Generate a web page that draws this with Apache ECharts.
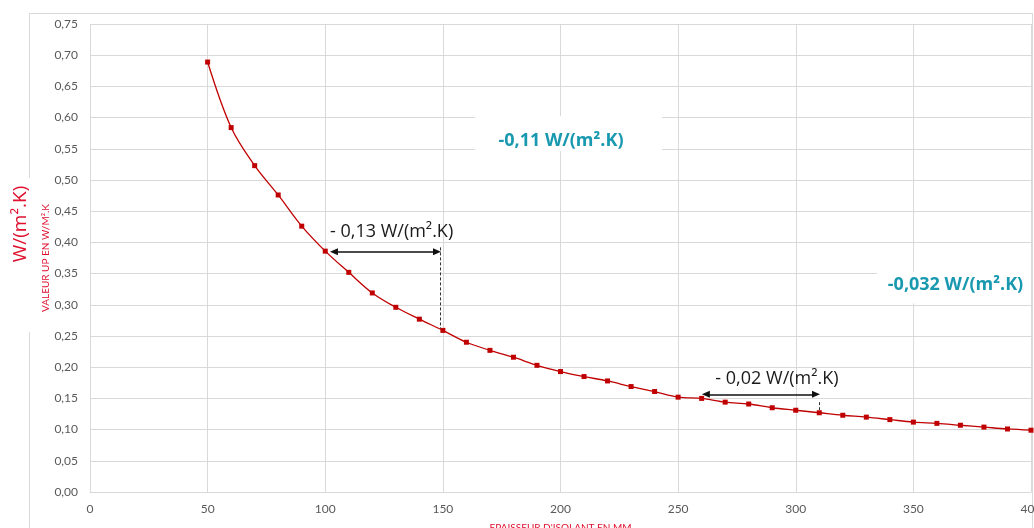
<!DOCTYPE html>
<html>
<head>
<meta charset="utf-8">
<script src="https://cdn.jsdelivr.net/npm/echarts@6/dist/echarts.min.js"></script>
<style>
html,body{margin:0;padding:0;background:#fff;}
#chart{width:1034px;height:528px;}
</style>
</head>
<body>
<div id="chart"></div>
<script>
// Épaisseur d'isolant (mm)
const thickness = [50,60,70,80,90,100,110,120,130,140,150,160,170,180,190,200,210,220,230,240,250,260,270,280,290,300,310,320,330,340,350,360,370,380,390,400];
// Valeur Up (W/m².K)
const upValues = [0.689,0.584,0.523,0.476,0.426,0.386,0.352,0.319,0.296,0.277,0.259,0.240,0.227,0.216,0.203,0.193,0.185,0.178,0.169,0.161,0.152,0.150,0.144,0.141,0.135,0.131,0.127,0.123,0.120,0.116,0.112,0.110,0.107,0.104,0.101,0.099];

const xTicks = {min:0, max:400, interval:50};
const yTicks = {min:0, max:0.75, interval:0.05};

const yAxisTitle = 'VALEUR UP EN W/M².K';
const xAxisTitle = "EPAISSEUR D'ISOLANT EN MM";
const unitLabel = 'W/(m².K)';

// annotations (data coordinates)
const tealNotes = [
  {text:'-0,11 W/(m².K)', at:[200.2, 0.5625], box:[[163.7,0.6026],[243.1,0.5465]]},
  {text:'-0,032 W/(m².K)', at:[367.9, 0.3317], box:[[334.5,0.3525],[400,0.3020]]}
];
const blackNotes = [
  {text:'- 0,13 W/(m².K)', at:[128.2, 0.4167]},
  {text:'- 0,02 W/(m².K)', at:[292.0, 0.1811]}
];
const arrows = [
  [[103.7,0.3850],[147.5,0.3850]],
  [[261.8,0.1566],[308.6,0.1566]]
];
const dashes = [
  [[148.8,0.392],[148.8,0.262]],
  [[309.9,0.144],[309.9,0.131]]
];

const chart = echarts.init(document.getElementById('chart'));
const gridColor = '#d9d9d9';
const red = '#c00000';
const titleRed = '#e0102f';
const teal = '#1899b0';

const seriesData = thickness.map((t,i)=>[t, upValues[i]]);

chart.setOption({
  animation:false,
  backgroundColor:'#fff',
  grid:{left:90, right:3, top:24, bottom:36, containLabel:false, outerBoundsMode:'none'},
  xAxis:{
    type:'value', min:xTicks.min, max:xTicks.max, interval:xTicks.interval,
    name:xAxisTitle, nameLocation:'middle', nameGap:31, nameMoveOverlap:false,
    nameTextStyle:{color:titleRed, fontSize:10, fontFamily:'Lato'},
    axisLine:{show:true, lineStyle:{color:gridColor, width:1}},
    axisTick:{show:false},
    axisLabel:{color:'#595959', fontSize:12, fontFamily:'Lato', margin:11},
    splitLine:{show:true, lineStyle:{color:gridColor, width:1}}
  },
  yAxis:{
    type:'value', min:yTicks.min, max:yTicks.max, interval:yTicks.interval,
    name:yAxisTitle, nameLocation:'middle', nameGap:39, nameMoveOverlap:false,
    nameTextStyle:{color:titleRed, fontSize:10, fontFamily:'Lato'},
    axisLine:{show:false},
    axisTick:{show:false},
    axisLabel:{color:'#595959', fontSize:12, fontFamily:'Lato', margin:12,
      formatter:v=>v.toFixed(2).replace('.',',')},
    splitLine:{show:true, lineStyle:{color:gridColor, width:1}}
  },
  graphic:[
    {type:'rect', z:-10, silent:true, shape:{x:29.5,y:13.5,width:1003,height:600},
      style:{fill:'none', stroke:gridColor, lineWidth:1}},
    {type:'rect', z:-5, silent:true, shape:{x:12,y:178,width:22,height:154}, style:{fill:'#fff'}},
    {type:'text', z:6, silent:true, x:21, y:224, rotation:Math.PI/2,
      style:{text:unitLabel, fill:titleRed, font:'19px "Open Sans"', align:'center', verticalAlign:'middle'}}
  ],
  series:[{
    type:'line',
    data:seriesData,
    smooth:0.35,
    symbol:'rect', symbolSize:5,
    itemStyle:{color:red},
    lineStyle:{color:red, width:1.3},
    z:3,
    markArea:{
      silent:true,
      itemStyle:{color:'#ffffff', opacity:1},
      data:tealNotes.map(n=>[{coord:n.box[0]},{coord:n.box[1]}])
    },
    markLine:{
      silent:true, animation:false,
      label:{show:false},
      data:[
        ...arrows.map(a=>[{coord:a[0], symbol:'triangle', symbolSize:[7,8], lineStyle:{color:'#111', width:1.6, type:'solid'}},
                          {coord:a[1], symbol:'triangle', symbolSize:[7,8]}]),
        ...dashes.map(d=>[{coord:d[0], symbol:'none', lineStyle:{color:'#333', width:1, type:[3,2]}},
                          {coord:d[1], symbol:'none'}])
      ]
    },
    markPoint:{
      silent:true, animation:false,
      symbol:'circle', symbolSize:1,
      itemStyle:{color:'rgba(0,0,0,0)'},
      data:[
        ...tealNotes.map(n=>({coord:n.at, label:{show:true, position:'inside', formatter:n.text,
          color:teal, fontSize:18, fontWeight:'bold', fontFamily:'Open Sans'}})),
        ...blackNotes.map(n=>({coord:n.at, label:{show:true, position:'inside', formatter:n.text,
          color:'#1a1a1a', fontSize:18, fontFamily:'Open Sans'}}))
      ]
    }
  }]
});
</script>
</body>
</html>
